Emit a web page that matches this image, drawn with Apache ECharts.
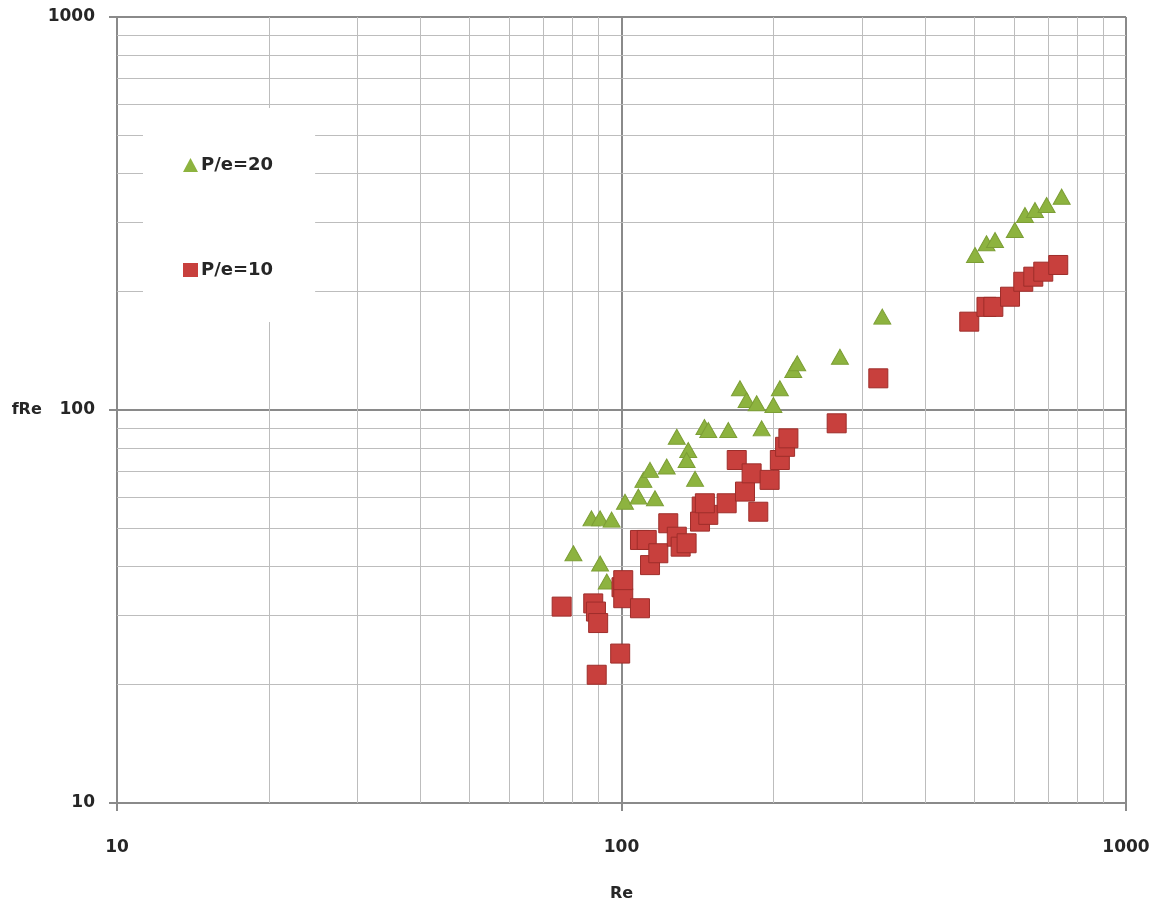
<!DOCTYPE html>
<html>
<head>
<meta charset="utf-8">
<script src="https://cdn.jsdelivr.net/npm/echarts@6/dist/echarts.min.js"></script>
<style>html,body{margin:0;padding:0;background:#fff;}#c{width:1162px;height:912px;}</style>
</head>
<body>
<div id="c"></div>
<script>
// P/e=20 (green triangles)
var reP20 = [80.3, 87.2, 90.7, 95.6, 90.7, 93.5, 101.6, 108, 116.5, 110.5, 113.9, 122.9, 128.7, 135.6, 134.6, 139.9, 146, 148.6, 162.8, 171.7, 177, 185.3, 189.6, 200, 206, 219, 223, 271, 328.8, 502, 529, 550, 602, 630.5, 660, 696, 745.6];
var fReP20 = [43.2, 53.0, 53.0, 52.6, 40.7, 36.6, 58.4, 60.2, 59.6, 66.4, 70.4, 71.8, 85.5, 79.1, 74.6, 66.8, 90.5, 88.9, 88.9, 113.6, 106, 104, 89.8, 103, 113.6, 126.4, 131.5, 136.6, 172.8, 248, 265.6, 270.7, 287, 313.5, 322.8, 332.4, 349];
// P/e=10 (red squares)
var reP10 = [76.1, 87.9, 89, 89.9, 89.3, 99.4, 100, 100.8, 100.8, 108.8, 108.8, 112.2, 113.9, 118.3, 123.8, 128.7, 131, 134.6, 144.2, 143.1, 148.6, 146.3, 161.6, 169.2, 175.7, 181.1, 186.7, 196.6, 206, 211, 214.2, 267, 322.9, 489, 529, 545.8, 589, 625.7, 655, 685.5, 734];
var fReP10 = [31.6, 32.2, 30.7, 28.7, 21.2, 24.0, 35.4, 33.2, 36.9, 31.3, 46.7, 46.7, 40.3, 43.2, 51.5, 47.6, 44.9, 45.8, 56.8, 52, 54.1, 57.9, 57.9, 74.6, 62, 69, 55.1, 66.4, 74.6, 80.6, 84.7, 92.5, 120.4, 167.8, 183, 183, 194.2, 212, 218.4, 224.9, 233.9];
// minor gridline values (both axes)
var minorX = [20, 30, 40, 50, 60, 70, 80, 90, 200, 300, 400, 500, 600, 700, 800, 900];
var minorY = [20, 30, 40, 50, 60, 70, 80, 90, 200, 300, 400, 500, 600, 700, 800, 900];
var seriesNames = ['P/e=20', 'P/e=10'];

function zip(a, b) { return a.map(function (v, i) { return [v, b[i]]; }); }
function plainLabel(v) { return String(Math.round(v)); }

var font = 'DejaVu Sans';
var textCol = '#262626';
var chart = echarts.init(document.getElementById('c'));
chart.setOption({
  animation: false,
  backgroundColor: '#ffffff',
  grid: { left: 117, right: 36, top: 17, bottom: 109 },
  legend: {
    data: seriesNames,
    orient: 'vertical',
    left: 143, top: 108,
    padding: [47, 42, 42, 40],
    itemGap: 85,
    itemWidth: 15, itemHeight: 14,
    itemStyle: { borderWidth: 0 },
    backgroundColor: '#ffffff',
    z: 6,
    textStyle: { fontFamily: font, fontWeight: 'bold', fontSize: 18, color: textCol, lineHeight: 20, padding: [0, 0, 0, -2] }
  },
  xAxis: {
    type: 'log', logBase: 10, min: 10, max: 1000,
    name: 'Re', nameLocation: 'middle', nameGap: 83,
    nameTextStyle: { fontFamily: font, fontWeight: 'bold', fontSize: 16, color: textCol },
    axisLine: { lineStyle: { color: '#8a8a8a', width: 2 } },
    axisTick: { show: true, length: 8, lineStyle: { color: '#8a8a8a', width: 2 } },
    axisLabel: { margin: 36, fontFamily: font, fontWeight: 'bold', fontSize: 17, color: textCol, formatter: plainLabel },
    splitLine: { show: true, lineStyle: { color: '#8a8a8a', width: 2 } }
  },
  yAxis: {
    type: 'log', logBase: 10, min: 10, max: 1000,
    name: 'fRe', nameLocation: 'middle', nameGap: 67, nameRotate: 0,
    nameTextStyle: { fontFamily: font, fontWeight: 'bold', fontSize: 16, color: textCol },
    axisLine: { lineStyle: { color: '#8a8a8a', width: 2 } },
    axisTick: { show: true, length: 8, lineStyle: { color: '#8a8a8a', width: 2 } },
    axisLabel: { margin: 22, fontFamily: font, fontWeight: 'bold', fontSize: 17, color: textCol, formatter: plainLabel },
    splitLine: { show: true, lineStyle: { color: '#8a8a8a', width: 2 } }
  },
  series: [
    {
      name: 'grid', type: 'scatter', data: [], z: 1, silent: true,
      markLine: {
        z: 1,
        silent: true, symbol: ['none', 'none'], animation: false,
        label: { show: false },
        lineStyle: { type: 'solid', color: '#bdbdbd', width: 1 },
        emphasis: { disabled: true },
        data: minorX.map(function (v) { return { xAxis: v }; })
          .concat(minorY.map(function (v) { return { yAxis: v }; }))
      }
    },
    {
      name: seriesNames[0], type: 'scatter', z: 3,
      symbol: 'triangle', symbolSize: [17, 15],
      itemStyle: { color: '#8db33f', borderColor: '#7c9e35', borderWidth: 1, opacity: 1 },
      data: zip(reP20, fReP20)
    },
    {
      name: seriesNames[1], type: 'scatter', z: 4,
      symbol: 'rect', symbolSize: 19,
      itemStyle: { color: '#c8403d', borderColor: '#9e2d2a', borderWidth: 1, opacity: 1 },
      data: zip(reP10, fReP10)
    }
  ]
});
</script>
</body>
</html>
